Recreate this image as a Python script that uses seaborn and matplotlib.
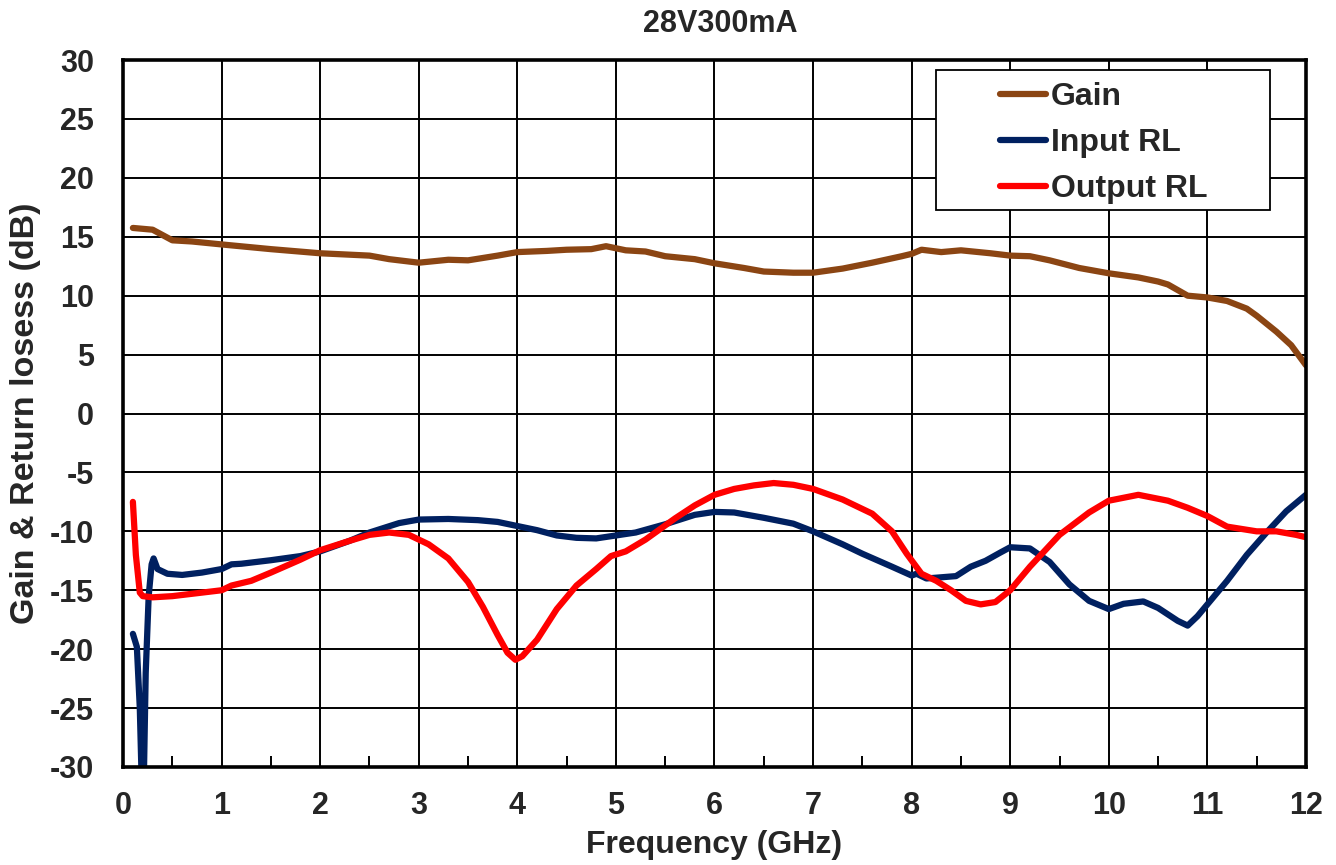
import matplotlib
matplotlib.use("Agg")
import matplotlib.pyplot as plt
import seaborn as sns
from matplotlib.ticker import MultipleLocator
from matplotlib.patches import Rectangle

# ---- data ----
gain_f = [0.1, 0.3, 0.5, 0.7, 1.0, 1.5, 2.0, 2.5, 2.7, 3.0, 3.3, 3.5, 3.8, 4.0, 4.3, 4.5,
          4.75, 4.9, 5.1, 5.3, 5.5, 5.8, 6.0, 6.3, 6.5, 6.8, 7.0, 7.3, 7.6, 7.9, 8.0, 8.1,
          8.3, 8.5, 8.8, 9.0, 9.2, 9.4, 9.7, 10.0, 10.3, 10.5, 10.6, 10.8, 11.0, 11.2, 11.4,
          11.5, 11.7, 11.85, 12.0]
gain_db = [15.75, 15.6, 14.7, 14.6, 14.35, 13.95, 13.6, 13.4, 13.1, 12.8, 13.05, 13.0, 13.4, 13.7,
           13.8, 13.9, 13.95, 14.2, 13.85, 13.75, 13.35, 13.1, 12.75, 12.35, 12.05, 11.95, 11.95,
           12.3, 12.8, 13.35, 13.55, 13.9, 13.7, 13.85, 13.6, 13.4, 13.35, 13.0, 12.35, 11.9,
           11.55, 11.2, 10.95, 10.0, 9.85, 9.55, 8.9, 8.3, 6.95, 5.8, 4.1]

in_f = [0.1, 0.14, 0.17, 0.19, 0.21, 0.23, 0.26, 0.29, 0.31, 0.35, 0.45, 0.6, 0.8, 1.0, 1.1,
        1.2, 1.5, 1.8, 2.0, 2.3, 2.5, 2.8, 3.0, 3.3, 3.6, 3.8, 4.0, 4.2, 4.4, 4.6, 4.8, 5.0,
        5.2, 5.5, 5.8, 6.0, 6.2, 6.5, 6.8, 7.0, 7.3, 7.5, 7.8, 8.0, 8.05, 8.15, 8.3, 8.45,
        8.6, 8.75, 8.9, 9.0, 9.2, 9.4, 9.6, 9.8, 10.0, 10.15, 10.35, 10.5, 10.7, 10.8, 10.9,
        11.0, 11.2, 11.4, 11.6, 11.8, 12.0]
in_db = [-18.7, -19.8, -25.0, -31.5, -31.5, -22.0, -15.5, -12.8, -12.3, -13.2, -13.6, -13.7,
         -13.5, -13.2, -12.8, -12.75, -12.45, -12.1, -11.7, -10.8, -10.1, -9.3, -9.0, -8.95,
         -9.05, -9.2, -9.55, -9.9, -10.35, -10.55, -10.6, -10.35, -10.1, -9.4, -8.6, -8.35,
         -8.4, -8.85, -9.35, -10.0, -11.1, -11.9, -13.0, -13.75, -13.6, -14.0, -13.9, -13.8,
         -13.0, -12.5, -11.8, -11.35, -11.45, -12.6, -14.5, -15.9, -16.6, -16.15, -15.95,
         -16.5, -17.6, -18.0, -17.2, -16.2, -14.2, -12.0, -10.1, -8.3, -6.9]

out_f = [0.1, 0.13, 0.17, 0.2, 0.3, 0.5, 0.7, 0.9, 1.0, 1.1, 1.3, 1.5, 1.8, 2.0, 2.3, 2.5,
         2.7, 2.9, 3.1, 3.3, 3.5, 3.65, 3.8, 3.9, 3.98, 4.05, 4.2, 4.4, 4.6, 4.8, 4.95, 5.1,
         5.3, 5.6, 5.8, 6.0, 6.2, 6.4, 6.6, 6.8, 7.0, 7.3, 7.6, 7.8, 7.95, 8.1, 8.25, 8.4,
         8.55, 8.7, 8.85, 9.0, 9.2, 9.5, 9.8, 10.0, 10.3, 10.6, 10.8, 11.0, 11.2, 11.5, 11.7,
         11.9, 12.0]
out_db = [-7.5, -12.0, -15.2, -15.5, -15.6, -15.5, -15.3, -15.1, -15.0, -14.6, -14.2, -13.5,
          -12.4, -11.6, -10.8, -10.3, -10.1, -10.3, -11.1, -12.3, -14.3, -16.4, -18.8, -20.3,
          -20.9, -20.6, -19.2, -16.6, -14.6, -13.2, -12.1, -11.7, -10.7, -8.9, -7.8, -6.9,
          -6.4, -6.1, -5.9, -6.05, -6.4, -7.3, -8.5, -10.0, -11.9, -13.6, -14.2, -15.0, -15.9,
          -16.2, -16.0, -15.0, -13.0, -10.3, -8.4, -7.4, -6.9, -7.4, -8.0, -8.7, -9.6, -10.0,
          -10.0, -10.3, -10.5]

series_names = ["Gain", "Input RL", "Output RL"]
series_colors = ["#8B4513", "#002060", "#FF0000"]
x_ticks = list(range(0, 13))
y_ticks = list(range(-30, 31, 5))

# ---- styling ----
sns.set_theme(style="white")
plt.rcParams["font.family"] = ["Liberation Sans", "DejaVu Sans"]
plt.rcParams["font.weight"] = "bold"
plt.rcParams["axes.unicode_minus"] = False

fig = plt.figure(figsize=(13.36, 8.65), dpi=100)
ax = fig.add_axes([0.0921, 0.1133, 0.8854, 0.8173])

for fx, fy, name, col in zip([gain_f, in_f, out_f], [gain_db, in_db, out_db],
                             series_names, series_colors):
    sns.lineplot(x=fx, y=fy, ax=ax, color=col, linewidth=4.5, label=name,
                 solid_capstyle="round", solid_joinstyle="round", sort=False)

ax.set_xlim(0, 12)
ax.set_ylim(-30, 30)
ax.set_xticks(x_ticks)
ax.set_yticks(y_ticks)
ax.xaxis.set_minor_locator(MultipleLocator(0.5))
ax.grid(True, which="major", color="black", linewidth=1.4)
ax.set_axisbelow(True)
ax.tick_params(axis="both", which="major", direction="in", length=0, labelsize=22)
ax.tick_params(axis="x", which="major", pad=17)
ax.tick_params(axis="y", which="major", pad=21)
ax.tick_params(axis="x", which="minor", direction="in", length=8, width=1.4, color="black",
               bottom=True)
for lab in ax.get_xticklabels() + ax.get_yticklabels():
    lab.set_fontweight("bold")
for sp in ax.spines.values():
    sp.set_color("black")
    sp.set_linewidth(2.6)

ax.set_xlabel("Frequency (GHz)", fontsize=23, fontweight="bold")
ax.set_ylabel("Gain & Return losess (dB)", fontsize=24.5, fontweight="bold")
ax.xaxis.set_label_coords(0.5, -0.110)
ax.xaxis.label.set_va("center")
ax.yaxis.set_label_coords(-0.0828, 0.5)
ax.yaxis.label.set_va("center")
fig.suptitle("28V300mA", fontsize=22, fontweight="bold", y=1 - 24 / 865, va="center",
             x=0.539)

# legend: white box with black edge, entries as in the reference
box = Rectangle((0.6872, 0.7878), 0.2824, 0.1981, transform=ax.transAxes,
                facecolor="white", edgecolor="black", linewidth=1.3, zorder=4)
ax.add_patch(box)
leg = ax.legend(loc="upper left", bbox_to_anchor=(0.7413, 0.969), frameon=False,
                fontsize=23, handlelength=1.44, handletextpad=0.16, borderpad=0,
                labelspacing=0.5, borderaxespad=0)
leg.set_zorder(5)
for t in leg.get_texts():
    t.set_fontweight("bold")
for h in leg.get_lines():
    h.set_linewidth(4.5)

fig.savefig("out.png", dpi=100)
